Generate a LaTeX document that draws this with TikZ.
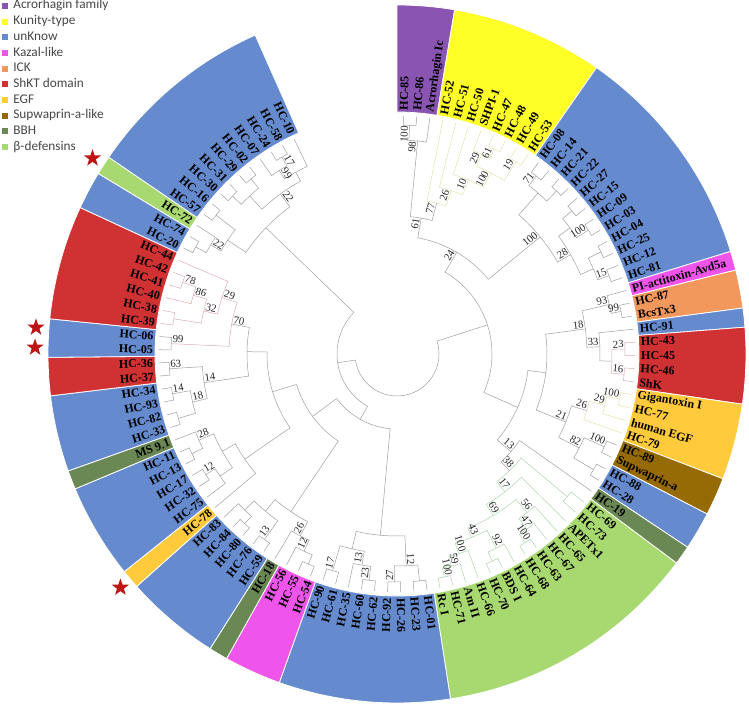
\documentclass[tikz,border=0pt]{standalone}
\usepackage{fontspec}
\setmainfont{Liberation Serif}
\newfontfamily\legfont{Carlito}
\usetikzlibrary{shapes.geometric, positioning}

\definecolor{cAcro}{RGB}{137,84,178}
\definecolor{cKuni}{RGB}{255,255,40}
\definecolor{cUnk}{RGB}{101,138,206}
\definecolor{cKaz}{RGB}{240,85,235}
\definecolor{cIck}{RGB}{242,152,92}
\definecolor{cShk}{RGB}{208,50,52}
\definecolor{cEgf}{RGB}{255,202,60}
\definecolor{cSup}{RGB}{150,106,4}
\definecolor{cBbh}{RGB}{106,136,84}
\definecolor{cDef}{RGB}{168,216,112}
\definecolor{cStar}{RGB}{190,20,20}
\definecolor{brGray}{RGB}{160,160,160}
\definecolor{brYel}{RGB}{226,226,170}
\definecolor{brGrn}{RGB}{172,214,172}
\definecolor{brRed}{RGB}{222,172,178}
\definecolor{brEgf}{RGB}{236,222,168}

\newcommand\angstep{3.17}
\newcommand\tipr{238}

% hoja: indice, texto
\newcommand\tipleaf[2]{%
  \pgfmathsetmacro\la{88.415-\angstep*#1}%
  \expandafter\xdef\csname A@L#1\endcsname{\la}%
  \expandafter\xdef\csname R@L#1\endcsname{\tipr}%
  \pgfmathtruncatemacro\isr{cos(\la)>=0}%
  \ifnum\isr=1
    \node[leaflbl, rotate=\la, anchor=west] (l#1) at (\la:244pt) {#2};%
  \else
    \pgfmathsetmacro\lb{\la+180}%
    \node[leaflbl, rotate=\lb, anchor=east] (l#1) at (\la:244pt) {#2};%
  \fi}

% clado: [color] nombre, radio, hijos
\newcommand\mkclade[4][brGray]{%
  \gdef\cfirst{}%
  \foreach \ch in {#4}{%
    \edef\brA{\csname A@\ch\endcsname}%
    \edef\brR{\csname R@\ch\endcsname}%
    \draw[branch, #1] (\brA:#3pt) -- (\brA:\brR pt);%
    \ifx\cfirst\empty\xdef\cfirst{\brA}\fi
    \xdef\clast{\brA}%
  }%
  \draw[branch, #1] (\cfirst:#3pt) arc[start angle=\cfirst, end angle=\clast, radius=#3pt];%
  \pgfmathsetmacro\nodeA{(\cfirst+\clast)/2}%
  \expandafter\xdef\csname A@#2\endcsname{\nodeA}%
  \expandafter\xdef\csname R@#2\endcsname{#3}%
}

% bootstrap: nodo, valor
\newcommand\mkboot[2]{%
  \edef\bsA{\csname A@#1\endcsname}%
  \edef\bsR{\csname R@#1\endcsname}%
  \pgfmathtruncatemacro\bsRt{cos(\bsA)>=0}%
  \ifnum\bsRt=1
    \node[bootlbl, rotate=\bsA, anchor=south east] (bs-#1) at (\bsA:\bsR pt) {#2};%
  \else
    \pgfmathsetmacro\bsB{\bsA+180}%
    \node[bootlbl, rotate=\bsB, anchor=south west] (bs-#1) at (\bsA:\bsR pt) {#2};%
  \fi}

% banda: primera hoja, ultima hoja, color
\newcommand\mkband[3]{%
  \pgfmathsetmacro\bsa{90-\angstep*#1}%
  \pgfmathsetmacro\bea{90-\angstep*(#2+1)}%
  \path[bandbox, fill=#3] (\bsa:242pt) arc[start angle=\bsa, end angle=\bea, radius=242pt]
    -- (\bea:349pt) arc[start angle=\bea, end angle=\bsa, radius=349pt] -- cycle;}

\begin{document}
\begin{tikzpicture}[x=1pt, y=1pt,
        % ramas del arbol
        branch/.style={line width=0.5pt, line cap=round},
        % etiquetas
        leaflbl/.style={font=\bfseries\fontsize{12}{12}\selectfont, inner sep=0pt},
        bootlbl/.style={font=\fontsize{10.8}{10.8}\selectfont, inner sep=1pt, text=black!85},
        % bandas de color
        bandbox/.style={draw=white, line width=0.8pt},
        % leyenda
        legsq/.style={rectangle, minimum size=6pt, inner sep=0pt},
        legtxt/.style={font=\legfont\fontsize{13.3}{14}\selectfont, text=black!72,
                inner sep=0pt, text height=8.5pt, text depth=2.5pt},
        redstar/.style={star, star points=5, star point ratio=2.5,
                minimum size=18pt, inner sep=0pt, fill=cStar}
    ]
    \useasboundingbox (-397,-352) rectangle (352,354);

    % BANDAS
    \mkband{0}{2}{cAcro}
    \mkband{3}{10}{cKuni}
    \mkband{11}{22}{cUnk}
    \mkband{23}{23}{cKaz}
    \mkband{24}{25}{cIck}
    \mkband{26}{26}{cUnk}
    \mkband{27}{30}{cShk}
    \mkband{31}{34}{cEgf}
    \mkband{35}{36}{cSup}
    \mkband{37}{38}{cUnk}
    \mkband{39}{39}{cBbh}
    \mkband{40}{53}{cDef}
    \mkband{54}{62}{cUnk}
    \mkband{63}{65}{cKaz}
    \mkband{66}{66}{cBbh}
    \mkband{67}{71}{cUnk}
    \mkband{72}{72}{cEgf}
    \mkband{73}{77}{cUnk}
    \mkband{78}{78}{cBbh}
    \mkband{79}{82}{cUnk}
    \mkband{83}{84}{cShk}
    \mkband{85}{86}{cUnk}
    \mkband{87}{92}{cShk}
    \mkband{93}{94}{cUnk}
    \mkband{95}{95}{cDef}
    \mkband{96}{105}{cUnk}

    % HOJAS
    \foreach \nm [count=\i from 0] in {HC-85, HC-86, Acrorhagin Ic, HC-52, HC-51, HC-50, SHPI-1,
            HC-47, HC-48, HC-49, HC-53, HC-08, HC-14, HC-21, HC-22, HC-27, HC-15, HC-09, HC-03,
            HC-04, HC-25, HC-12, HC-81, PI-actitoxin-Avd5a, HC-87, BcsTx3, HC-91, HC-43, HC-45,
            HC-46, ShK, Gigantoxin I, HC-77, human EGF, HC-79, HC-89, Supwaprin-a, HC-88, HC-28,
            HC-19, HC-69, HC-73, APETx1, HC-65, HC-67, HC-63, HC-68, HC-64, BDS I, HC-70, HC-66,
            Am II, HC-71, Rc I, HC-01, HC-23, HC-26, HC-92, HC-62, HC-60, HC-35, HC-61, HC-90,
            HC-54, HC-55, HC-56, HC-18, HC-59, HC-76, HC-80, HC-84, HC-83, HC-78, HC-75, HC-32,
            HC-17, HC-13, HC-11, MS 9.1, HC-33, HC-82, HC-93, HC-34, HC-37, HC-36, HC-05, HC-06,
            HC-39, HC-38, HC-40, HC-41, HC-42, HC-44, HC-20, HC-74, HC-72, HC-57, HC-16, HC-30,
            HC-31, HC-29, HC-02, HC-07, HC-24, HC-58, HC-10}
        {\tipleaf{\i}{\nm}}

    % ARBOL: acrorhagin y kunity
    \mkclade{p1}{229}{L0,L1}
    \mkclade{p2}{214}{p1,L2}
    \mkclade[brYel]{y1}{227}{L7,L8}
    \mkclade[brYel]{y2}{217}{L6,y1}
    \mkclade[brYel]{y3}{226}{L9,L10}
    \mkclade[brYel]{y4}{204}{y2,y3}
    \mkclade[brYel]{y5}{188}{L5,y4}
    \mkclade[brYel]{y6}{172}{L4,y5}
    \mkclade[brYel]{y7}{156}{L3,y6}
    \mkclade{ta}{138}{p2,y7}
    % unKnow arriba
    \mkclade{b1}{226}{L11,L12}
    \mkclade{b2}{228}{L13,L14}
    \mkclade{b3}{214}{b1,b2}
    \mkclade{b4}{226}{L15,L16}
    \mkclade{b5}{228}{L17,L18}
    \mkclade{b6}{214}{b4,b5}
    \mkclade{b7}{228}{L19,L20}
    \mkclade{b8}{226}{L21,L22}
    \mkclade{b9}{214}{b7,b8}
    \mkclade{b10}{200}{b6,b9}
    \mkclade{b11}{185}{b3,b10}
    \mkclade{tr}{118}{ta,b11}
    % lado derecho
    \mkclade{r1}{228}{L24,L25}
    \mkclade{r2}{218}{L23,r1}
    \mkclade[brRed]{r3}{228}{L27,L28}
    \mkclade[brRed]{r4}{228}{L29,L30}
    \mkclade[brRed]{r5}{215}{r3,r4}
    \mkclade{r6}{203}{L26,r5}
    \mkclade{r7}{190}{r2,r6}
    \mkclade[brEgf]{e1}{227}{L31,L32}
    \mkclade[brEgf]{e2}{214}{e1,L33}
    \mkclade[brEgf]{e3}{198}{e2,L34}
    \mkclade{s1}{227}{L35,L36}
    \mkclade{s2}{228}{L37,L38}
    \mkclade{s3}{205}{s1,s2}
    \mkclade{s4}{182}{e3,s3}
    \mkclade{rr}{150}{r7,s4}
    % beta-defensinas
    \mkclade[brGrn]{g1}{228}{L52,L53}
    \mkclade[brGrn]{g2}{219}{L51,g1}
    \mkclade[brGrn]{g3}{209}{L50,g2}
    \mkclade[brGrn]{g4}{228}{L48,L49}
    \mkclade[brGrn]{g5}{218}{L47,g4}
    \mkclade[brGrn]{g6}{198}{g5,g3}
    \mkclade[brGrn]{g7}{228}{L45,L46}
    \mkclade[brGrn]{g8}{218}{L44,g7}
    \mkclade[brGrn]{g9}{205}{L43,g8}
    \mkclade[brGrn]{g10}{188}{g9,g6}
    \mkclade[brGrn]{g11}{175}{L42,g10}
    \mkclade[brGrn]{g12}{222}{L40,L41}
    \mkclade[brGrn]{g13}{162}{g12,g11}
    \mkclade{g14}{150}{L39,g13}
    \mkclade{rg}{132}{rr,g14}
    \mkclade{right}{95}{tr,rg}
    % abajo
    \mkclade{k1}{228}{L54,L55}
    \mkclade{k2}{228}{L56,L57}
    \mkclade{k3}{212}{k1,k2}
    \mkclade{k4}{228}{L58,L59}
    \mkclade{k5}{226}{L61,L62}
    \mkclade{k6}{214}{k4,L60}
    \mkclade{k7}{200}{k6,k5}
    \mkclade{k8}{182}{k3,k7}
    \mkclade{m1}{228}{L63,L64}
    \mkclade{m2}{218}{m1,L65}
    \mkclade{m3}{206}{m2,L66}
    \mkclade{n1}{228}{L67,L68}
    \mkclade{n2}{228}{L69,L70}
    \mkclade{n3}{218}{n2,L71}
    \mkclade{n4}{205}{n1,n3}
    \mkclade{mn}{190}{m3,n4}
    % izquierda
    \mkclade{o1}{226}{L74,L75}
    \mkclade{o2}{215}{L73,o1}
    \mkclade{o3}{228}{L76,L77}
    \mkclade{o4}{216}{o3,L78}
    \mkclade{o5}{200}{o2,o4}
    \mkclade{o6}{185}{L72,o5}
    \mkclade{q1}{228}{L81,L82}
    \mkclade{q2}{228}{L79,L80}
    \mkclade{q3}{210}{q2,q1}
    \mkclade{q4}{228}{L83,L84}
    \mkclade{q5}{195}{q3,q4}
    \mkclade{q6}{226}{L85,L86}
    \mkclade[brRed]{t1}{226}{L90,L91}
    \mkclade[brRed]{t2}{212}{L89,t1}
    \mkclade[brRed]{t3}{226}{L87,L88}
    \mkclade[brRed]{t4}{198}{t3,t2}
    \mkclade[brRed]{t5}{184}{t4,L92}
    \mkclade[brRed]{t6}{168}{q6,t5}
    \mkclade{t7}{150}{q5,t6}
    \mkclade{ll2}{130}{o6,t7}
    \mkclade{ll}{105}{mn,ll2}
    % arriba izquierda
    \mkclade{u1}{228}{L103,L104}
    \mkclade{u2}{218}{L102,u1}
    \mkclade{u3}{208}{u2,L105}
    \mkclade{u4}{228}{L100,L101}
    \mkclade{u5}{228}{L98,L99}
    \mkclade{u6}{216}{u5,u4}
    \mkclade{u7}{198}{u6,u3}
    \mkclade{u8}{228}{L96,L97}
    \mkclade{u9}{228}{L93,L94}
    \mkclade{u10}{216}{u9,L95}
    \mkclade{u11}{204}{u10,u8}
    \mkclade{uu}{182}{u11,u7}
    % raiz
    \mkclade{lo}{75}{k8,ll}
    \mkclade{lw}{60}{lo,uu}
    \mkclade{root}{42}{right,lw}

    % BOOTSTRAP
    \mkboot{p1}{100} \mkboot{p2}{98}
    \mkboot{y1}{61} \mkboot{y2}{29} \mkboot{y3}{19} \mkboot{y4}{100}
    \mkboot{y5}{10} \mkboot{y6}{26} \mkboot{y7}{77} \mkboot{ta}{61}
    \mkboot{b1}{71} \mkboot{b5}{100} \mkboot{b8}{15} \mkboot{b10}{28}
    \mkboot{b11}{100} \mkboot{tr}{24}
    \mkboot{r1}{99} \mkboot{r2}{93} \mkboot{r3}{23} \mkboot{r4}{16}
    \mkboot{r6}{33} \mkboot{r7}{18}
    \mkboot{e1}{100} \mkboot{e2}{29} \mkboot{e3}{26}
    \mkboot{s1}{100} \mkboot{s3}{82} \mkboot{s4}{21}
    \mkboot{g1}{100} \mkboot{g2}{59} \mkboot{g3}{100} \mkboot{g5}{92}
    \mkboot{g6}{43} \mkboot{g7}{100} \mkboot{g8}{47} \mkboot{g9}{56}
    \mkboot{g10}{69} \mkboot{g11}{17} \mkboot{g13}{38} \mkboot{g14}{13}
    \mkboot{k2}{27} \mkboot{k3}{12} \mkboot{k4}{23} \mkboot{k5}{17} \mkboot{k6}{13}
    \mkboot{m2}{12} \mkboot{m3}{26} \mkboot{n1}{13}
    \mkboot{o1}{12} \mkboot{o4}{28}
    \mkboot{q1}{14} \mkboot{q3}{18} \mkboot{q4}{63} \mkboot{q5}{14} \mkboot{q6}{99}
    \mkboot{t1}{78} \mkboot{t2}{86} \mkboot{t4}{32} \mkboot{t5}{29} \mkboot{t6}{70}
    \mkboot{u1}{17} \mkboot{u2}{99} \mkboot{u7}{22} \mkboot{u10}{22}

    % ESTRELLAS
    \foreach \s in {72,85,86,95} {
        \pgfmathsetmacro\sa{88.415-\angstep*\s}
        \node[redstar] (st\s) at (\sa:362pt) {};
    }

    % LEYENDA
    \foreach \col/\txt [count=\i from 0] in {cAcro/Acrorhagin family, cKuni/Kunity-type,
            cUnk/unKnow, cKaz/Kazal-like, cIck/ICK, cShk/ShKT domain, cEgf/EGF,
            cSup/Supwaprin-a-like, cBbh/BBH, cDef/β-defensins} {
        \node[legsq, fill=\col] (sq\i) at (-391.5,{348-15.67*\i}) {};
        \node[legtxt, right=4.5pt of sq\i] (leg\i) {\txt};
    }

\end{tikzpicture}
\end{document}
